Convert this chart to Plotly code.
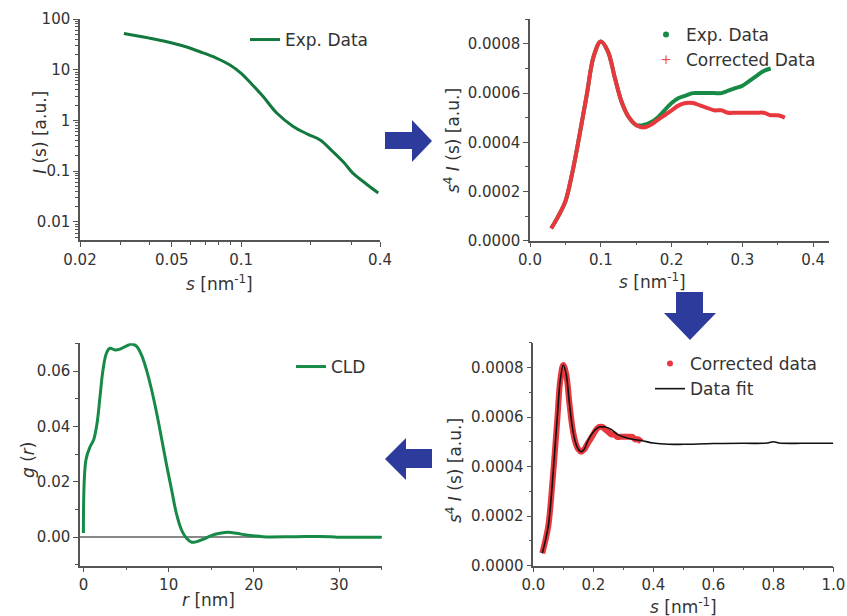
import plotly.graph_objects as go

W, H = 847, 616

# ---------------- data ----------------
# Panel 1: log-log SAXS curve
s_log = [0.031, 0.040, 0.0476, 0.0566, 0.0662, 0.078, 0.0894, 0.100, 0.112, 0.1245,
         0.143, 0.168, 0.195, 0.220, 0.250, 0.280, 0.305, 0.350, 0.393]
I_log = [52, 42, 35.6, 29, 22.6, 17, 12.4, 8.5, 5.0, 2.95,
         1.38, 0.76, 0.53, 0.41, 0.24, 0.144, 0.091, 0.055, 0.037]

# Panel 2 / 4: s^4 I(s)
s_exp = [0.03, 0.04, 0.05, 0.06, 0.07, 0.08, 0.09, 0.10, 0.11, 0.12, 0.13, 0.14, 0.15,
         0.16, 0.17, 0.18, 0.19, 0.20, 0.21, 0.22, 0.23, 0.24, 0.25, 0.26, 0.27, 0.28,
         0.29, 0.30, 0.31, 0.32, 0.33, 0.34]
p_exp = [0.00005, 0.00010, 0.00016, 0.00028, 0.00043, 0.00059, 0.00075, 0.00081, 0.00077,
         0.00066, 0.00056, 0.00050, 0.00047, 0.00047, 0.00048, 0.00050, 0.00053, 0.00056,
         0.00058, 0.00059, 0.00060, 0.00060, 0.00060, 0.00060, 0.00060, 0.00061, 0.00062,
         0.00063, 0.00065, 0.00067, 0.00069, 0.00070]

s_corr = [0.03, 0.04, 0.05, 0.06, 0.07, 0.08, 0.09, 0.10, 0.11, 0.12, 0.13, 0.14, 0.15,
          0.16, 0.17, 0.18, 0.19, 0.20, 0.21, 0.22, 0.23, 0.24, 0.25, 0.26, 0.27, 0.28,
          0.29, 0.30, 0.31, 0.32, 0.33, 0.34, 0.35, 0.36]
p_corr = [0.00005, 0.00010, 0.00016, 0.00028, 0.00043, 0.00059, 0.00075, 0.00081, 0.00077,
          0.00066, 0.00056, 0.00050, 0.00047, 0.00046, 0.00047, 0.00049, 0.00051, 0.00053,
          0.00055, 0.00056, 0.00056, 0.00055, 0.00054, 0.00053, 0.00053, 0.00052, 0.00052,
          0.00052, 0.00052, 0.00052, 0.00052, 0.00051, 0.00051, 0.00050]

s_fit = [0.03, 0.04, 0.05, 0.06, 0.07, 0.08, 0.09, 0.10, 0.11, 0.12, 0.13, 0.14, 0.15,
         0.16, 0.17, 0.18, 0.20, 0.22, 0.23, 0.24, 0.26, 0.28, 0.30, 0.33, 0.36, 0.40,
         0.45, 0.50, 0.60, 0.70, 0.78, 0.80, 0.82, 0.90, 1.00]
p_fit = [0.00005, 0.00010, 0.00016, 0.00028, 0.00044, 0.00060, 0.00075, 0.00081, 0.00077,
         0.00066, 0.00056, 0.00050, 0.00047, 0.00046, 0.00047, 0.00050, 0.00054, 0.00056,
         0.00056, 0.00056, 0.00055, 0.00053, 0.00052, 0.00051, 0.000505, 0.000495,
         0.00049, 0.00049, 0.000493, 0.000494, 0.000495, 0.000500, 0.000495, 0.000494, 0.000494]

# Panel 3: chord length distribution
r_cld = [0, 0.3, 0.8, 1.2, 1.6, 1.95, 2.3, 2.7, 3.1, 3.7, 4.3, 5.1, 5.7, 6.25, 6.8, 7.4,
         8.0, 8.6, 9.2, 9.8, 10.35, 10.9, 11.5, 12.1, 12.7, 13.3, 14.1, 15, 16, 17, 18,
         19.1, 20.3, 21.5, 25, 29, 30, 35]
g_cld = [0.0015, 0.028, 0.0328, 0.0352, 0.0412, 0.0509, 0.0605, 0.0665, 0.0683, 0.0677,
         0.0680, 0.0692, 0.0698, 0.0690, 0.0660, 0.0605, 0.0533, 0.0448, 0.0352, 0.0255,
         0.0171, 0.0087, 0.0027, -0.0004, -0.0018, -0.0016, -0.0007, 0.0006, 0.0014,
         0.0018, 0.0014, 0.0008, 0.0004, 0.0001, 0.0002, 0.0002, 0.0, 0.0]

GREEN = "#168a46"
RED = "#e8383d"
BLUE = "#2d3c9c"
FONT = "DejaVu Sans"
AX = "#555555"
TXT = "#333333"


def px_x(x):
    return x / W


def px_y(y):
    return 1 - y / H


fig = go.Figure()

# Panel 1
fig.add_trace(go.Scatter(x=s_log, y=I_log, mode="lines", name="Exp. Data",
                         line=dict(color="#12783d", width=3, shape="spline"),
                         xaxis="x", yaxis="y", legend="legend"))

# Panel 2
fig.add_trace(go.Scatter(x=s_exp, y=p_exp, mode="lines", showlegend=False,
                         line=dict(color=GREEN, width=4, shape="spline"),
                         xaxis="x2", yaxis="y2"))
fig.add_trace(go.Scatter(x=s_corr, y=p_corr, mode="lines", showlegend=False,
                         line=dict(color=RED, width=4, shape="spline"),
                         xaxis="x2", yaxis="y2"))
fig.add_trace(go.Scatter(x=[None], y=[None], mode="markers", name="Exp. Data",
                         marker=dict(color=GREEN, size=6, symbol="circle"),
                         xaxis="x2", yaxis="y2", legend="legend2"))
fig.add_trace(go.Scatter(x=[None], y=[None], mode="markers", name="Corrected Data",
                         marker=dict(color=RED, size=6, symbol="cross-thin",
                                     line=dict(color=RED, width=1)),
                         xaxis="x2", yaxis="y2", legend="legend2"))

# Panel 3
fig.add_trace(go.Scatter(x=r_cld, y=g_cld, mode="lines", name="CLD",
                         line=dict(color=GREEN, width=3, shape="spline"),
                         xaxis="x3", yaxis="y3", legend="legend3"))

# Panel 4
fig.add_trace(go.Scatter(x=s_corr, y=p_corr, mode="lines", showlegend=False,
                         line=dict(color=RED, width=6, shape="spline"),
                         xaxis="x4", yaxis="y4"))
fig.add_trace(go.Scatter(x=s_fit, y=p_fit, mode="lines", showlegend=False,
                         line=dict(color="#111111", width=1.6, shape="spline"),
                         xaxis="x4", yaxis="y4"))
fig.add_trace(go.Scatter(x=[None], y=[None], mode="markers", name="Corrected data",
                         marker=dict(color=RED, size=6, symbol="circle"),
                         xaxis="x4", yaxis="y4", legend="legend4"))
fig.add_trace(go.Scatter(x=[None], y=[None], mode="lines", name="Data fit",
                         line=dict(color="#111111", width=1.6),
                         xaxis="x4", yaxis="y4", legend="legend4"))

tickfont = dict(family=FONT, size=15, color=TXT)
common = dict(showline=True, linecolor=AX, linewidth=1.5, ticks="outside", ticklen=5,
              tickwidth=1.2, tickcolor=AX, showgrid=False, zeroline=False, mirror=False,
              tickfont=tickfont, automargin=False)
minor = dict(ticks="outside", ticklen=3, tickwidth=1, tickcolor=AX, showgrid=False)

# minor tick positions on log axes
ylog_minor = [d * k for d in [0.001, 0.01, 0.1, 1, 10] for k in range(2, 10)]

fig.update_layout(
    width=W, height=H, margin=dict(l=0, r=0, t=0, b=0, autoexpand=False),
    paper_bgcolor="white", plot_bgcolor="white",
    font=dict(family=FONT, color=TXT),
    xaxis=dict(**common, domain=[px_x(80), px_x(380)], type="log",
               range=[-1.699, -0.398], tickmode="array",
               tickvals=[0.02, 0.05, 0.1, 0.4], ticktext=["0.02", "0.05", "0.1", "0.4"],
               minor=dict(**minor, tickmode="array",
                          tickvals=[0.03, 0.04, 0.06, 0.07, 0.08, 0.09, 0.2, 0.3]),
               anchor="y"),
    yaxis=dict(**common, domain=[px_y(240), px_y(19)], type="log", range=[-2.36, 2.0],
               tickmode="array", tickvals=[0.01, 0.1, 1, 10, 100],
               ticktext=["0.01", "0.1", "1", "10", "100"],
               minor=dict(**minor, tickmode="array", tickvals=ylog_minor),
               anchor="x"),
    xaxis2=dict(**common, domain=[px_x(530), px_x(829)], range=[0, 0.4223],
                dtick=0.1, tick0=0, tickformat=".1f",
                minor=dict(**minor, dtick=0.05), anchor="y2"),
    yaxis2=dict(**common, domain=[px_y(240.7), px_y(19.3)], range=[0, 0.0009],
                dtick=0.0002, tick0=0, tickformat=".4f",
                minor=dict(**minor, dtick=0.0001), anchor="x2"),
    xaxis3=dict(**common, domain=[px_x(80), px_x(381.7)], range=[-0.4, 35],
                dtick=10, tick0=0, minor=dict(**minor, dtick=5), anchor="y3"),
    yaxis3=dict(**common, domain=[px_y(565.7), px_y(343.3)], range=[-0.0103, 0.0701],
                dtick=0.02, tick0=0, tickformat=".2f",
                minor=dict(**minor, dtick=0.01), anchor="x3"),
    xaxis4=dict(**common, domain=[px_x(533.3), px_x(833.3)], range=[0, 1.0],
                dtick=0.2, tick0=0, tickformat=".1f",
                minor=dict(**minor, dtick=0.1), anchor="y4"),
    yaxis4=dict(**common, domain=[px_y(565.7), px_y(342.7)], range=[0, 0.0009],
                dtick=0.0002, tick0=0, tickformat=".4f",
                minor=dict(**minor, dtick=0.0001), anchor="x4"),
)
fig.update_layout(yaxis3=dict(zeroline=True, zerolinecolor="#888888", zerolinewidth=1.5))

legfont = dict(family=FONT, size=17, color=TXT)
legcommon = dict(bgcolor="rgba(0,0,0,0)", borderwidth=0, font=legfont,
                 xanchor="left", yanchor="top", itemwidth=30, tracegroupgap=0)
fig.update_layout(
    legend=dict(**legcommon, x=px_x(245), y=px_y(22)),
    legend2=dict(**legcommon, x=px_x(646), y=px_y(17)),
    legend3=dict(**legcommon, x=px_x(291), y=px_y(349)),
    legend4=dict(**legcommon, x=px_x(650), y=px_y(346)),
)

# axis titles
tfont = dict(family=FONT, size=17, color=TXT)
titles = [
    ("<i>I</i> (s) [a.u.]", 40, 133, -90),
    ("<i>s</i> [nm<sup>-1</sup>]", 220, 283, 0),
    ("<i>s</i><sup>4</sup> <i>I</i> (s) [a.u.]", 452, 141, -90),
    ("<i>s</i> [nm<sup>-1</sup>]", 652, 281, 0),
    ("<i>g</i> (<i>r</i>)", 28, 460, -90),
    ("<i>r</i> [nm]", 208, 600, 0),
    ("<i>s</i><sup>4</sup> <i>I</i> (s) [a.u.]", 454, 471, -90),
    ("<i>s</i> [nm<sup>-1</sup>]", 683, 606, 0),
]
for text, x, y, ang in titles:
    fig.add_annotation(text=text, x=px_x(x), y=px_y(y), xref="paper", yref="paper",
                       showarrow=False, textangle=ang, font=tfont,
                       xanchor="center", yanchor="middle")


# process arrows (decorative)
def poly(points):
    d = "M " + " L ".join(f"{px_x(x):.5f},{px_y(y):.5f}" for x, y in points) + " Z"
    return dict(type="path", path=d, xref="paper", yref="paper",
                fillcolor=BLUE, line=dict(width=0), layer="above")


fig.add_shape(**poly([(385, 132), (412, 132), (412, 120), (432, 141), (412, 162),
                      (412, 149), (385, 149)]))
fig.add_shape(**poly([(676, 292), (703, 292), (703, 313), (716, 313), (690, 340),
                      (664, 313), (676, 313)]))
fig.add_shape(**poly([(432, 449), (406, 449), (406, 438), (385, 459), (406, 480),
                      (406, 468), (432, 468)]))

fig.write_html("out.html", config={"displayModeBar": False},
               post_script="document.body.style.margin='0px';"
                           "document.body.style.overflow='hidden';")
